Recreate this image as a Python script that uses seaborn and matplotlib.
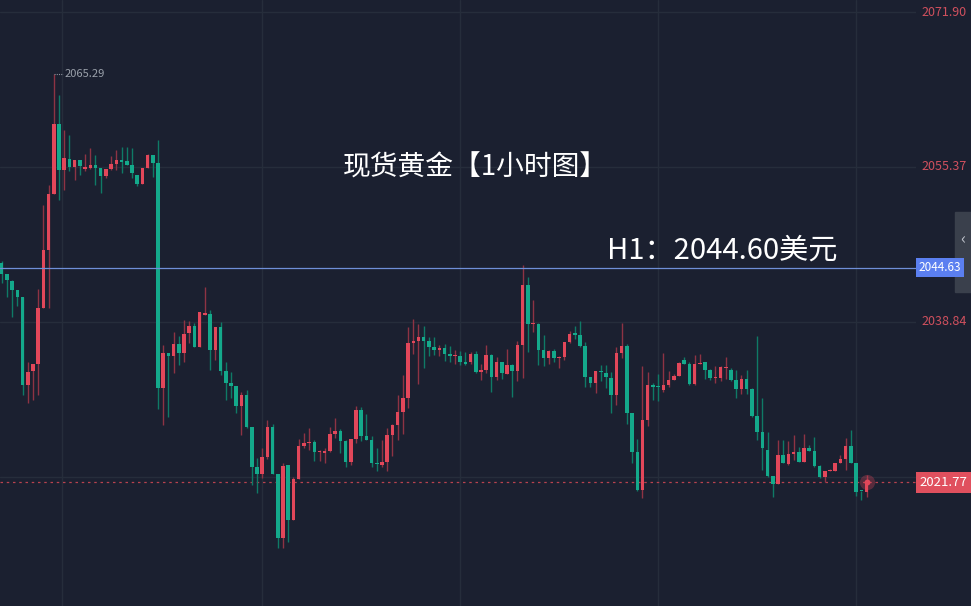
import numpy as np
import pandas as pd
import matplotlib
matplotlib.use("Agg")
import matplotlib.pyplot as plt
import seaborn as sns

# hourly OHLC
opens = [2045.1, 2043.95, 2043.25, 2042.25, 2041.5, 2032.1, 2033.65, 2034.4, 2040.3, 2046.5,
         2052.5, 2059.95, 2055.1, 2056.2, 2055.4, 2056.1, 2055.2, 2055.3, 2055.6, 2055.3,
         2054.4, 2055.15, 2055.7, 2056.1, 2056.0, 2055.6, 2054.5, 2053.55, 2055.25, 2056.7,
         2055.8, 2031.8, 2035.5, 2035.2, 2036.5, 2035.5, 2037.7, 2038.4, 2036.2, 2039.6,
         2039.7, 2035.85, 2038.3, 2033.65, 2032.35, 2032.0, 2029.9, 2031.05, 2027.6, 2023.4,
         2022.6, 2024.45, 2027.6, 2022.6, 2015.75, 2023.6, 2017.7, 2022.05, 2025.65, 2025.9,
         2026.0, 2025.0, 2024.9, 2025.1, 2026.9, 2027.2, 2026.1, 2023.95, 2026.35, 2029.5,
         2026.7, 2026.25, 2023.8, 2023.6, 2023.95, 2026.8, 2027.85, 2029.2, 2030.7, 2036.6,
         2036.85, 2037.2, 2036.85, 2036.2, 2035.85, 2036.1, 2035.4, 2035.2, 2035.2, 2034.55,
         2034.55, 2035.4, 2033.5, 2033.7, 2035.3, 2033.0, 2034.55, 2033.3, 2034.25, 2033.65,
         2036.4, 2042.8, 2038.6, 2038.65, 2035.85, 2035.0, 2035.75, 2034.95, 2035.15, 2036.75,
         2037.6, 2037.5, 2036.3, 2033.0, 2032.3, 2033.6, 2033.4, 2032.9, 2031.0, 2035.5,
         2036.3, 2029.1, 2025.0, 2020.9, 2028.4, 2032.1, 2032.0, 2031.6, 2032.1, 2032.65,
         2033.1, 2034.8, 2034.35, 2032.2, 2034.35, 2034.6, 2033.7, 2032.9, 2032.9, 2033.9,
         2033.7, 2032.6, 2031.65, 2032.8, 2031.65, 2028.8, 2027.1, 2025.2, 2022.4, 2021.6,
         2024.65, 2023.7, 2024.75, 2025.0, 2023.9, 2025.4, 2025.1, 2023.5, 2022.3, 2022.9,
         2023.0, 2023.85, 2024.25, 2025.6, 2023.75, 2020.85, 2020.75]
highs = [2045.3, 2044.0, 2043.3, 2042.3, 2041.5, 2034.6, 2034.4, 2042.4, 2051.3, 2053.45,
         2065.29, 2063.05, 2059.3, 2058.8, 2056.1, 2056.1, 2056.8, 2057.4, 2056.65, 2055.3,
         2055.15, 2056.5, 2057.2, 2057.5, 2057.5, 2057.4, 2054.5, 2055.25, 2056.8, 2056.7,
         2058.25, 2036.4, 2035.5, 2037.8, 2037.3, 2039.05, 2038.9, 2038.7, 2039.9, 2042.6,
         2040.1, 2038.3, 2038.85, 2034.6, 2033.5, 2032.0, 2031.4, 2031.6, 2027.6, 2024.3,
         2025.35, 2028.4, 2028.0, 2022.6, 2023.8, 2023.6, 2022.35, 2026.4, 2027.0, 2027.5,
         2026.3, 2025.2, 2025.4, 2027.6, 2028.6, 2027.4, 2026.3, 2026.4, 2029.9, 2029.8,
         2029.0, 2026.7, 2025.4, 2026.25, 2027.5, 2028.0, 2031.05, 2033.2, 2038.3, 2039.2,
         2038.6, 2038.4, 2037.2, 2037.2, 2036.4, 2036.5, 2036.3, 2035.9, 2035.7, 2035.6,
         2035.6, 2035.7, 2034.4, 2036.4, 2035.4, 2035.1, 2034.6, 2035.95, 2034.4, 2036.8,
         2044.9, 2043.6, 2041.2, 2038.7, 2037.45, 2035.9, 2036.0, 2035.2, 2036.75, 2037.9,
         2038.4, 2038.95, 2036.75, 2033.0, 2033.65, 2034.25, 2034.25, 2033.5, 2036.2, 2038.7,
         2036.5, 2029.1, 2026.4, 2034.1, 2033.5, 2032.3, 2033.3, 2035.5, 2033.65, 2033.3,
         2034.6, 2035.1, 2034.6, 2035.3, 2035.4, 2034.6, 2033.8, 2034.15, 2034.15, 2035.1,
         2033.9, 2033.7, 2033.2, 2033.7, 2031.75, 2037.35, 2030.7, 2027.1, 2022.4, 2026.25,
         2026.25, 2026.1, 2026.8, 2025.5, 2026.85, 2025.7, 2026.6, 2023.6, 2022.9, 2023.2,
         2023.85, 2024.65, 2026.5, 2027.3, 2023.75, 2020.85, 2022.5]
lows = [2043.0, 2041.5, 2039.4, 2040.5, 2031.05, 2030.2, 2030.5, 2031.05, 2040.3, 2040.3,
        2052.5, 2051.85, 2052.9, 2054.9, 2054.0, 2054.5, 2054.9, 2055.2, 2053.45, 2052.6,
        2054.2, 2055.05, 2055.05, 2054.7, 2055.6, 2054.2, 2053.3, 2053.55, 2055.25, 2054.3,
        2029.6, 2027.85, 2028.75, 2033.4, 2034.25, 2034.6, 2036.55, 2036.2, 2036.2, 2039.6,
        2033.7, 2034.8, 2033.2, 2030.5, 2030.7, 2029.1, 2026.8, 2027.5, 2021.45, 2020.55,
        2022.2, 2024.2, 2022.6, 2014.7, 2014.7, 2015.4, 2017.7, 2022.05, 2025.4, 2025.2,
        2024.05, 2024.05, 2023.8, 2025.0, 2026.5, 2024.9, 2023.4, 2023.6, 2025.9, 2026.2,
        2026.25, 2023.4, 2022.9, 2023.4, 2022.95, 2024.5, 2026.25, 2026.9, 2029.7, 2035.4,
        2032.2, 2033.97, 2035.2, 2035.3, 2035.2, 2034.7, 2034.6, 2034.4, 2034.25, 2034.25,
        2034.4, 2033.4, 2032.6, 2033.4, 2031.4, 2032.6, 2032.8, 2033.3, 2030.8, 2032.5,
        2032.9, 2035.6, 2037.8, 2034.25, 2034.15, 2034.4, 2034.6, 2033.9, 2034.8, 2036.6,
        2037.0, 2036.2, 2031.95, 2031.9, 2031.3, 2032.5, 2031.8, 2029.1, 2030.0, 2034.95,
        2028.0, 2023.8, 2020.85, 2020.1, 2027.7, 2030.5, 2030.45, 2031.4, 2031.9, 2032.65,
        2033.1, 2034.35, 2032.1, 2032.1, 2034.35, 2032.8, 2032.6, 2032.3, 2032.5, 2032.8,
        2032.5, 2030.7, 2031.2, 2031.2, 2028.7, 2026.25, 2023.05, 2022.35, 2020.2, 2021.55,
        2023.75, 2023.6, 2024.1, 2023.9, 2023.9, 2025.1, 2023.4, 2022.2, 2021.8, 2022.9,
        2022.9, 2023.8, 2023.05, 2023.75, 2020.3, 2019.9, 2020.2]
closes = [2044.0, 2043.3, 2042.3, 2041.5, 2032.1, 2033.55, 2034.4, 2040.3, 2046.5, 2052.5,
          2059.95, 2055.1, 2056.3, 2055.4, 2056.1, 2055.5, 2055.4, 2055.6, 2055.3, 2054.4,
          2055.15, 2055.7, 2056.1, 2055.95, 2055.6, 2054.7, 2053.55, 2055.25, 2056.7, 2055.8,
          2031.8, 2035.5, 2035.2, 2036.5, 2035.5, 2037.6, 2038.4, 2036.2, 2039.9, 2039.8,
          2035.85, 2038.3, 2033.65, 2032.3, 2032.0, 2029.9, 2031.05, 2027.6, 2023.4, 2022.6,
          2024.45, 2027.6, 2022.6, 2015.75, 2023.5, 2017.7, 2022.05, 2025.6, 2025.9, 2025.95,
          2025.0, 2025.05, 2025.1, 2026.9, 2027.2, 2026.1, 2023.95, 2026.35, 2029.5, 2026.7,
          2026.3, 2023.8, 2023.65, 2023.95, 2026.8, 2027.85, 2029.2, 2030.7, 2036.6, 2036.85,
          2037.2, 2036.85, 2036.2, 2035.85, 2036.1, 2035.4, 2035.2, 2035.25, 2034.55, 2034.4,
          2035.4, 2033.5, 2033.7, 2035.3, 2033.0, 2034.6, 2033.4, 2034.25, 2033.65, 2036.4,
          2042.8, 2038.6, 2038.65, 2035.85, 2035.0, 2035.75, 2034.95, 2035.15, 2036.75, 2037.6,
          2037.5, 2036.3, 2033.0, 2032.3, 2033.65, 2033.5, 2033.0, 2031.0, 2035.5, 2036.3,
          2029.1, 2025.0, 2020.9, 2028.4, 2032.1, 2031.9, 2031.9, 2032.1, 2032.65, 2033.1,
          2034.5, 2034.35, 2032.2, 2034.35, 2034.5, 2033.7, 2032.9, 2032.95, 2034.0, 2033.95,
          2032.6, 2031.65, 2032.8, 2031.65, 2028.8, 2027.1, 2025.35, 2022.4, 2021.6, 2024.65,
          2023.75, 2024.75, 2025.0, 2023.9, 2025.45, 2025.1, 2023.5, 2022.3, 2022.9, 2023.05,
          2023.85, 2024.25, 2025.6, 2023.75, 2020.75, 2020.8, 2021.77]

axis_ticks = [2071.90, 2055.37, 2038.84, 2022.31]
axis_labels = ["2071.90", "2055.37", "2038.84"]
high_label = "2065.29"
line_price = 2044.63
last_price = 2021.77
title = "现货黄金【1小时图】"
note = "H1：2044.60美元"

df = pd.DataFrame({"open": opens, "high": highs, "low": lows, "close": closes})
df["idx"] = np.arange(len(df))
df["up"] = df["close"] >= df["open"]

BG = "#1b2030"
UP, DOWN = "#e2475a", "#14a98b"
UP_W, DOWN_W = "#8e3344", "#0f7a66"

sns.set_theme(style="dark", rc={"axes.facecolor": BG, "figure.facecolor": BG,
                                "font.family": ["Noto Sans CJK SC", "DejaVu Sans"]})

fig = plt.figure(figsize=(9.71, 6.06), dpi=100)
ax = fig.add_axes([0, 0, 916 / 971, 1])
ax.set_facecolor(BG)

# grid
for v in axis_ticks:
    ax.axhline(v, color="#262d3b", lw=1, zorder=0)
for gx in [11.6, 50, 88, 126, 164]:
    ax.axvline(gx, color="#262d3b", lw=1, zorder=0)

# wicks and bodies
wick_cols = np.where(df["up"], UP_W, DOWN_W)
ax.vlines(df["idx"], df["low"], df["high"], colors=wick_cols, lw=1, zorder=2)
body_bottom = np.minimum(df["open"], df["close"])
body_h = np.maximum((df["open"] - df["close"]).abs(), 0.12)
ax.bar(df["idx"], body_h, bottom=body_bottom, width=0.68,
       color=np.where(df["up"], UP, DOWN), linewidth=0, zorder=3)

ax.axhline(line_price, color="#6f8fd8", lw=0.9, zorder=4)
ax.axhline(last_price, color="#b8424f", lw=0.9, ls=(0, (2, 3)), zorder=1)
ax.scatter([len(df) - 1], [last_price], s=120, color=UP, alpha=0.3, zorder=5, linewidths=0)
ax.scatter([len(df) - 1], [last_price], s=18, color=UP, zorder=5, linewidths=0)

# highest point label
hi = int(df["high"].idxmax())
ax.plot([hi, hi + 1.7], [df["high"][hi]] * 2, color="#8a8f9a", lw=0.8, ls=(0, (1, 1)))
ax.text(hi + 2, df["high"][hi], high_label, color="#9aa0aa", fontsize=8, va="center")

ax.set_xlim(-0.33, 175.5)
ax.set_ylim(2008.55, 2073.18)
ax.set_xticks([])
ax.set_yticks([])
for s in ax.spines.values():
    s.set_visible(False)

ax.text(0.519, 0.724, title, transform=ax.transAxes, color="white", fontsize=20,
        ha="center", va="center")
ax.text(0.663, 0.587, note, transform=ax.transAxes, color="white", fontsize=21,
        ha="left", va="center")

# collapse tab on the right edge (behind the price labels)
fig.patches.append(plt.Rectangle((955 / 971, 1 - 292 / 606), 16 / 971, 80 / 606,
                                 transform=fig.transFigure, color="#3a404c", zorder=-1))
fig.text(963 / 971, 1 - 240 / 606, "‹", color="#c0c4cc", fontsize=12, ha="center", va="center")

# right price axis
tr = ax.get_yaxis_transform()
for v, lab in zip(axis_ticks, axis_labels):
    ax.text(1.006, v, lab, transform=tr, color="#d0505e", fontsize=9, va="center",
            clip_on=False)
ax.text(1.003, line_price, "2044.63", transform=tr, color="white", fontsize=8.5, va="center",
        clip_on=False, zorder=10,
        bbox=dict(boxstyle="square,pad=0.25", fc="#5b7ff0", ec="none"))
ax.text(1.004, last_price, "2021.77", transform=tr, color="white", fontsize=9.5, va="center",
        clip_on=False, bbox=dict(boxstyle="square,pad=0.3", fc="#e0505e", ec="none"))

fig.savefig("out.png", dpi=100, facecolor=BG)
